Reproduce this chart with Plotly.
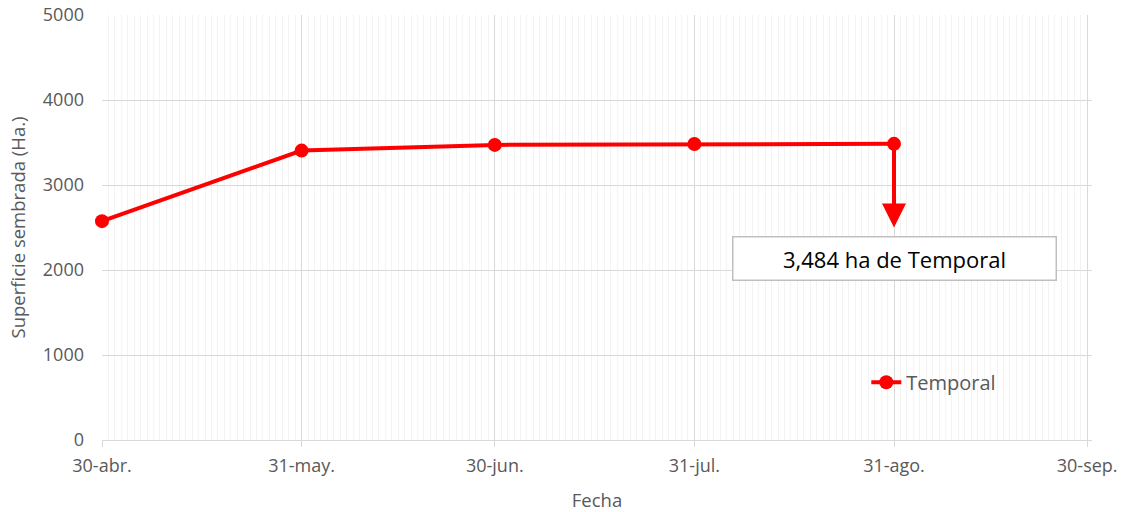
import plotly.graph_objects as go

fechas = ["2023-04-30", "2023-05-31", "2023-06-30", "2023-07-31", "2023-08-31"]
superficie = [2575, 3405, 3472, 3482, 3484]
serie = "Temporal"
tick_vals = ["2023-04-30", "2023-05-31", "2023-06-30", "2023-07-31", "2023-08-31", "2023-09-30"]
tick_text = ["30-abr.", "31-may.", "30-jun.", "31-jul.", "31-ago.", "30-sep."]
etiqueta = "3,484 ha de Temporal"

grey = "#595959"
fig = go.Figure()
fig.add_trace(go.Scatter(
    x=fechas, y=superficie, name=serie, mode="lines+markers",
    line=dict(color="#ff0000", width=4),
    marker=dict(color="#ff0000", size=14),
    cliponaxis=False,
))

fig.add_annotation(
    x=fechas[-1], y=2500, ax=fechas[-1], ay=superficie[-1],
    xref="x", yref="y", axref="x", ayref="y",
    text="", showarrow=True, arrowhead=2, arrowsize=1.2, arrowwidth=4,
    arrowcolor="#ff0000",
)
fig.add_annotation(
    x=fechas[-1], y=2130, xref="x", yref="y",
    text=etiqueta, showarrow=False,
    font=dict(family="Open Sans", size=22, color="#000000"),
    bgcolor="#ffffff", bordercolor="#bfbfbf", borderwidth=1.5,
    width=318, height=38, borderpad=2,
)

fig.update_layout(
    width=1128, height=512,
    margin=dict(l=102, r=36, t=15, b=72),
    plot_bgcolor="#ffffff", paper_bgcolor="#ffffff",
    font=dict(family="Open Sans", color=grey, size=16),
    showlegend=True,
    legend=dict(x=0.772, y=0.136, xanchor="left", yanchor="middle",
                bgcolor="rgba(0,0,0,0)", font=dict(size=20, color=grey)),
    xaxis=dict(
        type="date", range=["2023-04-30", "2023-09-30 18:00"],
        tickmode="array", tickvals=tick_vals, ticktext=tick_text,
        tickfont=dict(size=18),
        showgrid=True, gridcolor="#d9d9d9", gridwidth=1,
        showline=True, linecolor="#d9d9d9", linewidth=1,
        ticks="outside", tickcolor="#d9d9d9", ticklen=6,
        ticklabelstandoff=3, ticklabeloverflow="allow",
        minor=dict(tickmode="linear", tick0="2023-04-30", dtick=86400000,
                   showgrid=True, gridcolor="#f3f3f3", gridwidth=1, ticks=""),
        title=dict(text="Fecha", font=dict(size=18.5, color=grey), standoff=24),
        zeroline=False, automargin=False,
    ),
    yaxis=dict(
        range=[0, 5000], dtick=1000, tick0=0,
        tickfont=dict(size=18),
        showgrid=True, gridcolor="#d9d9d9", gridwidth=1,
        showline=False, zeroline=False,
        title=dict(text="Superficie sembrada (Ha.)", font=dict(size=18.5, color=grey), standoff=12),
        ticks="", ticklabelstandoff=17, automargin=False,
        ticklabeloverflow="allow",
    ),
)

fig.write_html("out.html", config={"displayModeBar": False},
               post_script="document.body.style.margin='0';")
